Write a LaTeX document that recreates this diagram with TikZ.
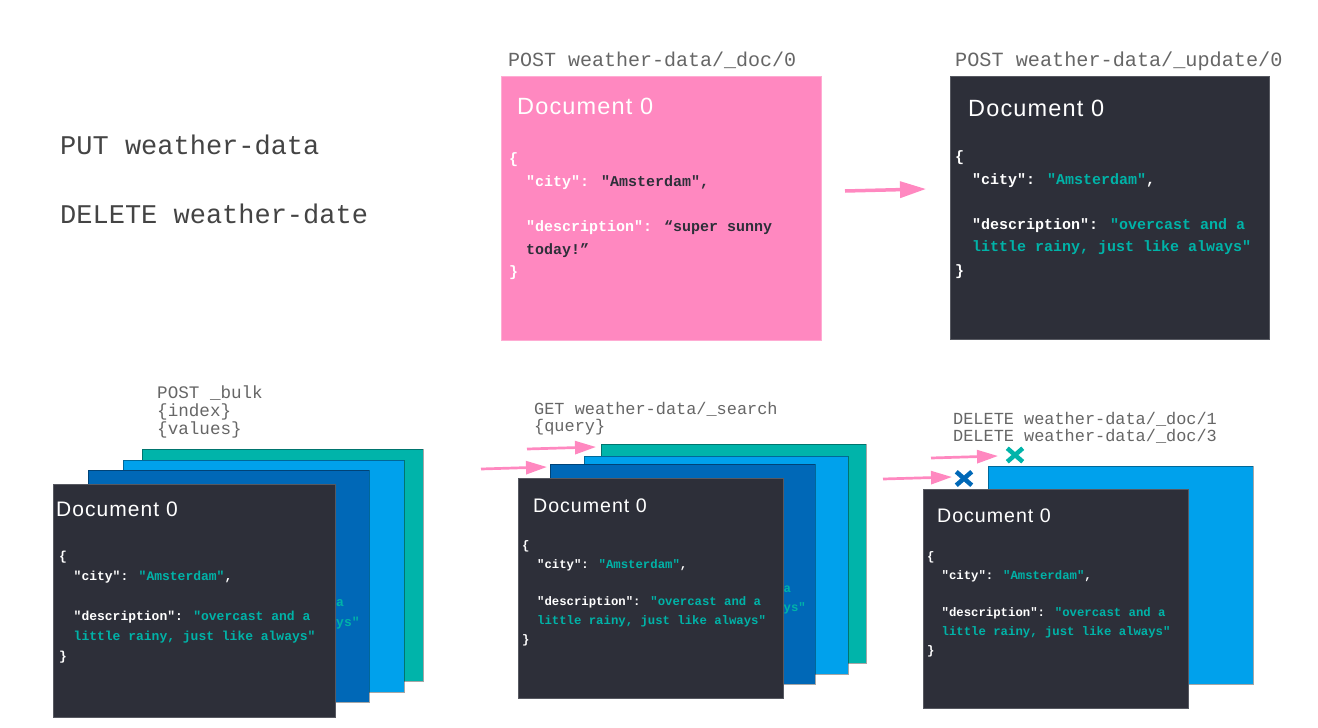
\documentclass[tikz,border=0pt]{standalone}
\usepackage{fontspec}
\setmainfont{Liberation Sans}
\newfontfamily\monof{Liberation Mono}
\newfontfamily\titlef{Liberation Sans}[LetterSpace=5]
\usetikzlibrary{arrows.meta,shapes.misc}

\newcommand\fs[1]{\fontsize{#1}{#1}\selectfont}

\definecolor{pinkc}{HTML}{FF88C0}
\definecolor{darkc}{HTML}{2D2F39}
\definecolor{tealc}{HTML}{00B4AA}
\definecolor{tealtxt}{HTML}{00B3A8}
\definecolor{lblue}{HTML}{00A1EC}
\definecolor{dblue}{HTML}{0068B7}
\definecolor{labelc}{HTML}{666666}
\definecolor{leftc}{HTML}{444444}

\tikzset{
  plate/.style={anchor=north west, inner sep=0pt, outer sep=0pt, draw=black, draw opacity=0.35, line width=1pt},
  docplate/.style={anchor=north west, inner sep=0pt, outer sep=0pt, fill=darkc, draw=darkc!80!white, line width=0.8pt},
  cmdtext/.style={anchor=base west, inner sep=0pt, text=labelc, font=\monof\fs{#1}},
  doctitle/.style={anchor=base west, inner sep=0pt, text=white, font=\titlef\fs{#1}},
  jsonline/.style={anchor=base west, inner sep=0pt, text=white, font=\monof\bfseries\fs{#1}},
  bigarrow/.style={draw=pinkc, line width=3.5pt, -{Triangle[length=26pt,width=16pt]}},
  smallarrow/.style={draw=pinkc, line width=2.7pt, -{Triangle[length=21pt,width=13pt]}},
  xmark/.style={cross out, draw=#1, line width=4.5pt, minimum width=11pt, minimum height=9pt, inner sep=0pt},
}

\begin{document}
\begin{tikzpicture}[x=1pt,y=-1pt]
\fill[white] (0,0) rectangle (1318,728);
\useasboundingbox (0,0) rectangle (1318,728);

% ---------- left commands ----------
\node[cmdtext=27, text=leftc] (put) at (60,154) {PUT weather-data};
\node[cmdtext=27, text=leftc] (del) at (60,223) {DELETE weather-date};

% ---------- pink document ----------
\node[cmdtext=20] (pinklbl) at (508,66) {POST weather-data/\_doc/0};
\node[plate, fill=pinkc, draw=pinkc!70!white, draw opacity=1, minimum width=320pt, minimum height=264pt] (pinkbox) at (501,76) {};
\node[doctitle=23.5] (p-title) at (517,114) {Document 0};
\node[jsonline=15] (p-open) at (509,163.5) {\{};
\node[jsonline=15] (p-city) at (526,186.5) {"city": \textcolor{darkc}{"Amsterdam",}};
\node[jsonline=15] (p-desc) at (526,231.5) {"description": \textcolor{darkc}{“super sunny}};
\node[jsonline=15] (p-desc2) at (526,254.5) {\textcolor{darkc}{today!”}};
\node[jsonline=15] (p-close) at (509,276.5) {\}};

% ---------- updated document ----------
\node[cmdtext=20.2] (updlbl) at (955,66) {POST weather-data/\_update/0};
\node[docplate, minimum width=319pt, minimum height=263pt] (updbox) at (950,76) {};
\node[doctitle=23.5] (u-title) at (968,116) {Document 0};
\node[jsonline=15] (u-open) at (955,161.5) {\{};
\node[jsonline=15] (u-city) at (972,184.5) {"city": \textcolor{tealtxt}{"Amsterdam"},};
\node[jsonline=15] (u-desc) at (972,229.5) {"description": \textcolor{tealtxt}{"overcast and a}};
\node[jsonline=15] (u-desc2) at (972,251.5) {\textcolor{tealtxt}{little rainy, just like always"}};
\node[jsonline=15] (u-close) at (955,275.5) {\}};

\coordinate (a1s) at (845,191);
\coordinate (a1e) at (926,189);
\draw[bigarrow] (a1s) -- (a1e);

% ---------- bulk stack ----------
\node[cmdtext=17.6] (bulk1) at (157,398) {POST \_bulk};
\node[cmdtext=17.6] (bulk2) at (157,416) {\{index\}};
\node[cmdtext=17.6] (bulk3) at (157,434) {\{values\}};
\node[plate, fill=tealc, minimum width=281pt, minimum height=232pt] (b-teal) at (142,449) {};
\node[plate, fill=lblue, minimum width=281pt, minimum height=232pt] (b-lblue) at (123,460) {};
\node[plate, fill=dblue, minimum width=281pt, minimum height=232pt] (b-dblue) at (88,470) {};
\node[jsonline=13, text=tealtxt] (b-peek1) at (336,606) {a};
\node[jsonline=13, text=tealtxt] (b-peek2) at (336,626) {ys"};
\node[docplate, minimum width=282pt, minimum height=233pt] (b-doc) at (53,484) {};
\node[doctitle=21] (b-title) at (56,516) {Document 0};
\node[jsonline=13] (b-open) at (59,560) {\{};
\node[jsonline=13] (b-city) at (73.5,580) {"city": \textcolor{tealtxt}{"Amsterdam"},};
\node[jsonline=13] (b-desc) at (73.5,620) {"description": \textcolor{tealtxt}{"overcast and a}};
\node[jsonline=13] (b-desc2) at (73.5,640) {\textcolor{tealtxt}{little rainy, just like always"}};
\node[jsonline=13] (b-close) at (59,660) {\}};

% ---------- search stack ----------
\node[cmdtext=16.9] (srch1) at (534,414) {GET weather-data/\_search};
\node[cmdtext=16.9] (srch2) at (534,431.5) {\{query\}};
\node[plate, fill=tealc, minimum width=265pt, minimum height=219pt] (s-teal) at (601,444) {};
\node[plate, fill=lblue, minimum width=264pt, minimum height=218pt] (s-lblue) at (584,456) {};
\node[plate, fill=dblue, minimum width=265pt, minimum height=220pt] (s-dblue) at (550,464) {};
\node[jsonline=12.3, text=tealtxt] (s-peek1) at (783.5,592) {a};
\node[jsonline=12.3, text=tealtxt] (s-peek2) at (783.5,611) {ys"};
\node[docplate, minimum width=265pt, minimum height=220pt] (s-doc) at (518,478) {};
\node[doctitle=19.6] (s-title) at (533,512) {Document 0};
\node[jsonline=12.3] (s-open) at (522,549.7) {\{};
\node[jsonline=12.3] (s-city) at (537,568.7) {"city": \textcolor{tealtxt}{"Amsterdam"},};
\node[jsonline=12.3] (s-desc) at (537,605.7) {"description": \textcolor{tealtxt}{"overcast and a}};
\node[jsonline=12.3] (s-desc2) at (537,624.7) {\textcolor{tealtxt}{little rainy, just like always"}};
\node[jsonline=12.3] (s-close) at (522,643.7) {\}};

\coordinate (s1s) at (527,449);
\coordinate (s1e) at (596,447);
\coordinate (s2s) at (481,469);
\coordinate (s2e) at (547,467);
\draw[smallarrow] (s1s) -- (s1e);
\draw[smallarrow] (s2s) -- (s2e);

% ---------- delete stack ----------
\node[cmdtext=16.9] (dl1) at (953,424.5) {DELETE weather-data/\_doc/1};
\node[cmdtext=16.9] (dl2) at (953,441.7) {DELETE weather-data/\_doc/3};
\node[plate, fill=lblue, minimum width=265pt, minimum height=218pt] (d-lblue) at (988,466) {};
\node[docplate, minimum width=265pt, minimum height=219pt] (d-doc) at (923,489) {};
\node[doctitle=19.6] (d-title) at (937,522) {Document 0};
\node[jsonline=12.3] (d-open) at (927,560.7) {\{};
\node[jsonline=12.3] (d-city) at (941.5,579.7) {"city": \textcolor{tealtxt}{"Amsterdam"},};
\node[jsonline=12.3] (d-desc) at (941.5,616.7) {"description": \textcolor{tealtxt}{"overcast and a}};
\node[jsonline=12.3] (d-desc2) at (941.5,635.7) {\textcolor{tealtxt}{little rainy, just like always"}};
\node[jsonline=12.3] (d-close) at (927,654.7) {\}};

\node[xmark=tealc] (x-teal) at (1015,455) {};
\node[xmark=dblue] (x-blue) at (964,478.5) {};
\coordinate (d1s) at (931,458);
\coordinate (d1e) at (998,456);
\coordinate (d2s) at (883,479);
\coordinate (d2e) at (952,477);
\draw[smallarrow] (d1s) -- (d1e);
\draw[smallarrow] (d2s) -- (d2e);
\end{tikzpicture}
\end{document}
